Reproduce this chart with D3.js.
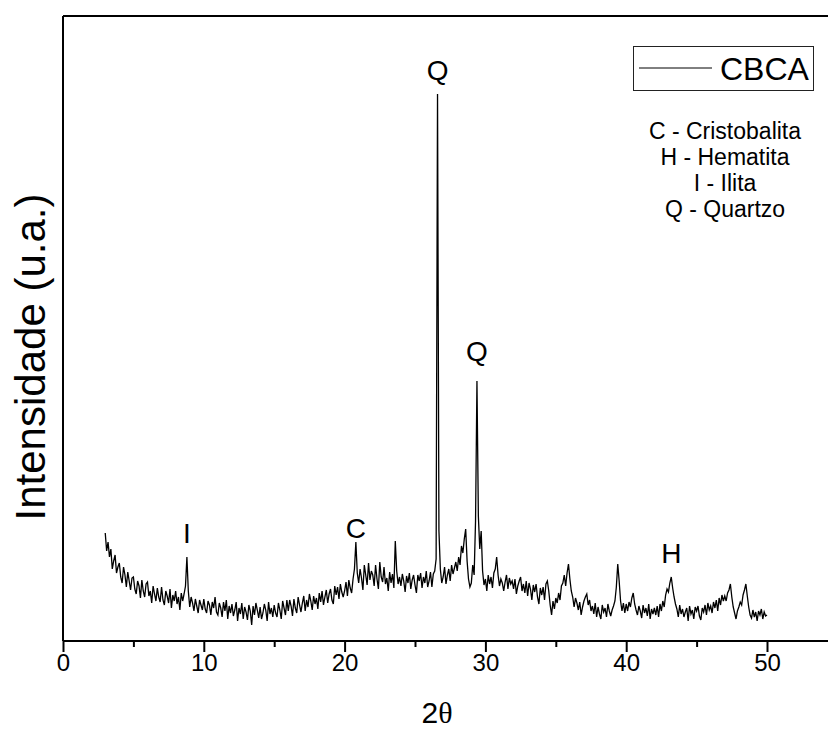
<!DOCTYPE html>
<html>
<head>
<meta charset="utf-8">
<script src="https://cdn.jsdelivr.net/npm/d3@7"></script>
<style>
  html, body { margin: 0; padding: 0; background: #fff; }
  svg { display: block; }
</style>
</head>
<body>
<svg id="chart" width="828" height="736"></svg>
<script>
// ---------- DATA (XRD scan, 0.1° step, intensity in arbitrary units) ----------
const scanStep = 0.1;
const seg1Start = 3.0;   // 3.0 – 9.9
const seg1 = [
  108, 90, 99, 84, 92, 72, 80, 86, 68, 74,
  78, 64, 58, 74, 66, 54, 69, 60, 51, 63,
  64, 52, 47, 60, 55, 43, 61, 50, 44, 57,
  59, 45, 50, 38, 55, 47, 40, 53, 44, 39,
  54, 41, 36, 50, 45, 38, 52, 33, 46, 40,
  50, 37, 44, 31, 48, 40, 47, 55, 84, 50,
  34, 44, 38, 30, 42, 35, 28, 41, 36, 31
];
const seg2Start = 10.0;  // 10.0 – 19.9
const seg2 = [
  42, 32, 28, 40, 36, 26, 39, 33, 44, 29,
  26, 38, 33, 24, 39, 30, 41, 22, 35, 28,
  37, 25, 31, 39, 20, 33, 27, 38, 22, 34,
  29, 21, 36, 30, 16, 35, 26, 38, 31, 23,
  34, 22, 28, 37, 31, 20, 39, 27, 33, 24,
  36, 28, 24, 38, 31, 22, 40, 33, 26, 41,
  30, 41, 35, 25, 42, 33, 28, 44, 36, 29,
  38, 45, 30, 41, 34, 47, 40, 31, 45, 37,
  43, 32, 48, 39, 50, 36, 44, 51, 38, 47,
  52, 41, 37, 55, 46, 54, 42, 57, 49, 44
];
const seg3Start = 20.0;  // 20.0 – 25.9
const seg3 = [
  50, 59, 45, 61, 53, 48, 62, 72, 99, 68,
  58, 72, 63, 51, 76, 66, 56, 78, 61, 70,
  66, 55, 76, 62, 52, 79, 64, 59, 74, 57,
  63, 50, 69, 58, 67, 53, 100, 70, 57, 64,
  55, 67, 60, 49, 65, 58, 68, 52, 61, 66,
  56, 48, 66, 60, 68, 53, 64, 58, 70, 54
];
const seg4Start = 26.0;  // 26.0 – 31.9
const seg4 = [
  60, 69, 54, 67, 70, 82, 547, 110, 72, 58,
  64, 74, 57, 66, 72, 60, 76, 67, 73, 79,
  70, 84, 76, 95, 88, 102, 112, 80, 62, 54,
  58, 76, 66, 120, 260, 125, 92, 110, 70, 56,
  62, 50, 66, 57, 64, 53, 68, 72, 84, 66,
  55, 62, 58, 50, 59, 66, 52, 63, 57, 60
];
const seg5Start = 32.0;  // 32.0 – 39.9
const seg5 = [
  52, 62, 47, 55, 60, 64, 50, 57, 48, 60,
  45, 58, 52, 41, 56, 49, 57, 44, 37, 53,
  46, 54, 41, 57, 60, 50, 36, 26, 40, 32,
  43, 38, 48, 41, 55, 58, 66, 55, 68, 77,
  62, 50, 44, 34, 43, 38, 31, 39, 26, 34,
  40, 44, 47, 36, 41, 30, 35, 27, 38, 24,
  34, 27, 22, 36, 29, 33, 24, 37, 30, 25,
  31, 35, 40, 54, 77, 60, 40, 30, 38, 28
];
const seg6Start = 40.0;  // 40.0 – 50.0
const seg6 = [
  37, 30, 39, 34, 43, 48, 37, 31, 26, 35,
  30, 23, 36, 28, 33, 25, 37, 22, 32, 27,
  33, 26, 35, 24, 37, 30, 40, 34, 46, 52,
  49, 58, 64, 53, 44, 37, 32, 24, 36, 27,
  32, 24, 29, 33, 20, 35, 27, 31, 22, 34,
  30, 35, 25, 21, 33, 29, 36, 26, 38, 31,
  35, 28, 39, 33, 41, 30, 43, 36, 46, 40,
  45, 40, 48, 51, 57, 44, 34, 28, 22, 30,
  34, 39, 36, 46, 51, 57, 45, 34, 26, 23,
  31, 24, 29, 20, 30, 26, 32, 22, 29, 25,
  26
];

const xTicks = [0, 10, 20, 30, 40, 50];
const xMinorTicks = [5, 15, 25, 35, 45];
const seriesName = "CBCA";
const peakLabels = ["I", "C", "Q", "Q", "H"];
const peakTheta = [8.8, 20.8, 26.6, 29.4, 43.2];
const phaseKey = ["C - Cristobalita", "H - Hematita", "I - Ilita", "Q - Quartzo"];
const xTitle = "2θ";
const yTitle = "Intensidade (u.a.)";

// ---------- BUILD ----------
const segments = [[seg1Start, seg1], [seg2Start, seg2], [seg3Start, seg3],
                  [seg4Start, seg4], [seg5Start, seg5], [seg6Start, seg6]];
const data = [];
segments.forEach(([s, arr]) => arr.forEach((v, i) => data.push({ t: +(s + i * scanStep).toFixed(2), v })));

const svg = d3.select("#chart");
const m = { left: 63, top: 16, bottom: 641 };
const x = d3.scaleLinear().domain([0, 55]).range([m.left, m.left + 55 * 14.08]);
const y = d3.scaleLinear().domain([0, 625]).range([m.bottom, m.top]);

const font = "'Liberation Sans', Arial, sans-serif";

// trace
svg.append("path")
  .datum(data)
  .attr("fill", "none")
  .attr("stroke", "#000")
  .attr("stroke-width", 1.3)
  .attr("stroke-linejoin", "miter")
  .attr("d", d3.line().x(d => x(d.t)).y(d => y(d.v)));

// frame: top & left
svg.append("line").attr("x1", m.left).attr("x2", 840).attr("y1", m.top).attr("y2", m.top)
  .attr("stroke", "#000").attr("stroke-width", 2);
svg.append("line").attr("x1", m.left).attr("x2", m.left).attr("y1", m.top).attr("y2", m.bottom)
  .attr("stroke", "#000").attr("stroke-width", 2);

// bottom axis
const xAxis = d3.axisBottom(x).tickValues(xTicks).tickSize(11).tickPadding(2).tickFormat(d3.format("d"));
const gx = svg.append("g").attr("transform", `translate(0,${m.bottom})`).call(xAxis);
gx.select(".domain").attr("stroke-width", 2).attr("d", `M${m.left},0H840`);
gx.selectAll(".tick line").attr("stroke-width", 2);
gx.selectAll(".tick text").attr("font-family", font).attr("font-size", 24).attr("fill", "#000");
const gm = svg.append("g").attr("transform", `translate(0,${m.bottom})`)
  .call(d3.axisBottom(x).tickValues(xMinorTicks).tickSize(6).tickFormat(""));
gm.select(".domain").remove();
gm.selectAll(".tick line").attr("stroke-width", 2);

// axis titles
const xt = svg.append("text").attr("x", 437).attr("y", 723).attr("text-anchor", "middle")
  .attr("font-size", 30).attr("fill", "#000");
xt.append("tspan").attr("font-family", font).text(xTitle[0]);
xt.append("tspan").attr("font-family", "'Liberation Serif', 'DejaVu Serif', serif").text(xTitle.slice(1));

svg.append("text")
  .attr("transform", `translate(45,357) rotate(-90)`)
  .attr("text-anchor", "middle")
  .attr("font-family", font).attr("font-size", 42).attr("fill", "#000")
  .text(yTitle);

// peak labels (gap between label baseline and peak top)
const labelGap = [14, 4, 14, 20, 14];
peakLabels.forEach((lab, i) => {
  const t = peakTheta[i];
  const near = data.filter(d => Math.abs(d.t - t) <= 0.15);
  const top = d3.max(near, d => d.v);
  svg.append("text")
    .attr("x", x(t)).attr("y", y(top) - labelGap[i])
    .attr("text-anchor", "middle")
    .attr("font-family", font).attr("font-size", 28).attr("fill", "#000")
    .text(lab);
});

// legend
const lg = svg.append("g");
lg.append("rect").attr("x", 633.5).attr("y", 46.5).attr("width", 180).attr("height", 44)
  .attr("fill", "#fff").attr("stroke", "#222").attr("stroke-width", 1);
lg.append("line").attr("x1", 639).attr("x2", 712).attr("y1", 68).attr("y2", 68)
  .attr("stroke", "#000").attr("stroke-width", 1);
lg.append("text").attr("x", 720).attr("y", 80).attr("font-family", font)
  .attr("font-size", 32).attr("fill", "#000").text(seriesName);

// phase key
phaseKey.forEach((t, i) => {
  svg.append("text").attr("x", 725).attr("y", 139 + i * 26)
    .attr("text-anchor", "middle").attr("font-family", font)
    .attr("font-size", 23).attr("fill", "#000").text(t);
});
</script>
</body>
</html>
